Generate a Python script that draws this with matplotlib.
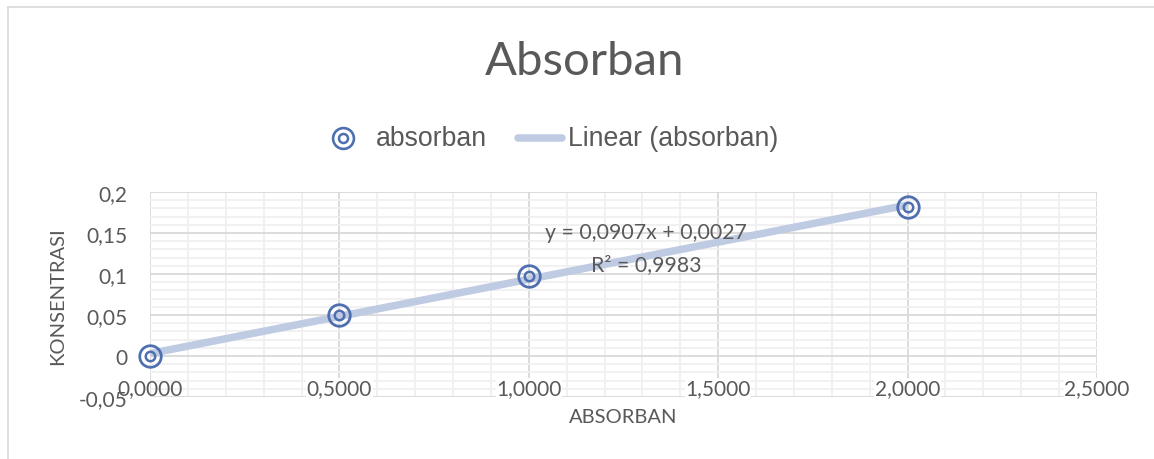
import numpy as np
import matplotlib
matplotlib.use("Agg")
import matplotlib.pyplot as plt
from matplotlib.lines import Line2D
from matplotlib.ticker import MultipleLocator

# ---- data ----
absorban = [0.0, 0.5, 1.0, 2.0]
konsentrasi = [0.0, 0.05, 0.097, 0.182]
x_ticks = [0.0, 0.5, 1.0, 1.5, 2.0, 2.5]
x_tick_labels = ["0,0000", "0,5000", "1,0000", "1,5000", "2,0000", "2,5000"]
y_ticks = [-0.05, 0.0, 0.05, 0.1, 0.15, 0.2]
y_tick_labels = ["-0,05", "0", "0,05", "0,1", "0,15", "0,2"]
title = "Absorban"
series_name = "absorban"
trend_name = "Linear (absorban)"
eq_text = "y = 0,0907x + 0,0027"
r2_text = "R² = 0,9983"

W, H = 1154, 460
DPI = 100
TXT = "#595959"
MARK = "#4f6fb0"
TREND = "#bfcbe3"
MAJ = "#d9d9d9"
MIN = "#f0f0f0"
FONT = ["Lato", "DejaVu Sans"]
LEGFONT = ["Liberation Sans", "DejaVu Sans"]

fig = plt.figure(figsize=(W / DPI, H / DPI), dpi=DPI)

def fx(px):
    return px / W

def fy(py):
    return 1 - py / H

# plot area
ax = fig.add_axes([fx(150), fy(398), fx(1097) - fx(150), fy(193) - fy(398)])
ax.set_xlim(0, 2.5)
ax.set_ylim(-0.05, 0.2)
for s in ax.spines.values():
    s.set_visible(False)
ax.set_xticks(x_ticks)
ax.set_xticklabels([])
ax.set_yticks(y_ticks)
ax.set_yticklabels(y_tick_labels)
ax.xaxis.set_minor_locator(MultipleLocator(0.1))
ax.yaxis.set_minor_locator(MultipleLocator(0.01))
ax.grid(which="major", color=MAJ, linewidth=1.3, zorder=1)
ax.grid(which="minor", color=MIN, linewidth=1.3, zorder=0)
ax.set_axisbelow(True)
ax.tick_params(axis="both", which="both", length=0)
ax.tick_params(axis="y", pad=16, labelsize=15, labelcolor=TXT)
for lab in ax.get_yticklabels():
    lab.set_fontfamily(FONT)

# x tick labels sit inside the plot area, just above its bottom edge (Excel style)
xlab_tr = ax.get_xaxis_transform()
for i, (xv, lab) in enumerate(zip(x_ticks, x_tick_labels)):
    bb = None if i == 0 else dict(facecolor="white", edgecolor="none", pad=0.3)
    ax.text(xv, 9 / 205, lab, transform=xlab_tr, ha="center", va="center", fontsize=15,
            color=TXT, family=FONT, zorder=6, clip_on=False, bbox=bb)

# trendline
coef = np.polyfit(absorban, konsentrasi, 1)
xt = np.array([min(absorban), max(absorban)])
ax.plot(xt, np.polyval(coef, xt), color=TREND, linewidth=5.4, solid_capstyle="butt", zorder=3)

# markers (double ring)
ax.plot(absorban, konsentrasi, linestyle="none", marker="o", markersize=15.5,
        markerfacecolor="none", markeredgecolor=MARK, markeredgewidth=2.0, zorder=4, clip_on=False)
ax.plot(absorban, konsentrasi, linestyle="none", marker="o", markersize=6.8,
        markerfacecolor="none", markeredgecolor=MARK, markeredgewidth=1.8, zorder=4, clip_on=False)

# equation text
ax.text(1.31, 0.1515, eq_text, ha="center", va="center", fontsize=15.3, color=TXT, family=FONT)
ax.text(1.31, 0.1125, r2_text, ha="center", va="center", fontsize=15.3, color=TXT, family=FONT)

# axis titles
fig.text(fx(623), fy(418), "ABSORBAN", ha="center", va="center", fontsize=14.5, color=TXT, family=FONT)
fig.text(fx(58), fy(296), "KONSENTRASI", ha="center", va="center", rotation=90,
         fontsize=14.5, color=TXT, family=FONT)

# title
fig.text(fx(585), fy(62), title, ha="center", va="center", fontsize=34, color=TXT, family=FONT)

# legend (manual)
fig.add_artist(Line2D([fx(343)], [fy(139)], marker="o", markersize=15, markerfacecolor="none",
                      markeredgecolor=MARK, markeredgewidth=1.9, transform=fig.transFigure))
fig.add_artist(Line2D([fx(343)], [fy(139)], marker="o", markersize=6.5, markerfacecolor="none",
                      markeredgecolor=MARK, markeredgewidth=1.8, transform=fig.transFigure))
fig.text(fx(376), fy(139), series_name, ha="left", va="center", fontsize=19.2, color=TXT, family=LEGFONT)
fig.add_artist(Line2D([fx(518), fx(562)], [fy(139), fy(139)], color=TREND, linewidth=5.4,
                      solid_capstyle="round", transform=fig.transFigure))
fig.text(fx(568), fy(139), trend_name, ha="left", va="center", fontsize=19.2, color=TXT, family=LEGFONT)

# chart border (left and top)
fig.add_artist(Line2D([fx(7.5), fx(7.5)], [fy(460), fy(7.5)], color=MAJ, linewidth=1.2,
                      transform=fig.transFigure))
fig.add_artist(Line2D([fx(7.5), fx(1154)], [fy(7.5), fy(7.5)], color=MAJ, linewidth=1.2,
                      transform=fig.transFigure))

fig.savefig("out.png", dpi=DPI, facecolor="white")
